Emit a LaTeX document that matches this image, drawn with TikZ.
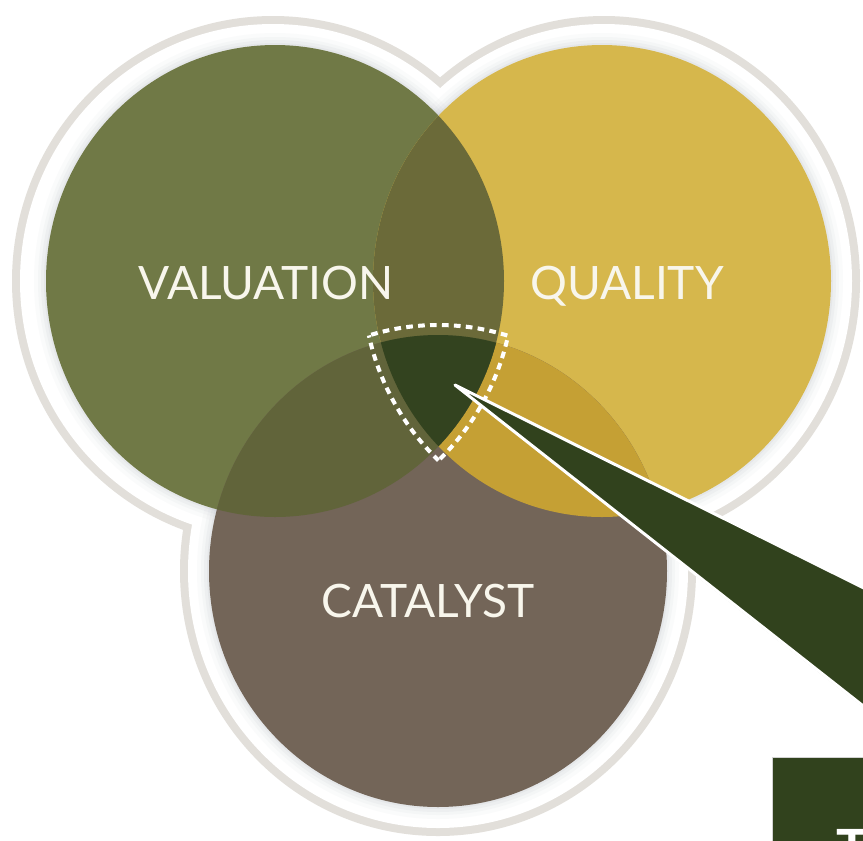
\documentclass[tikz,border=0pt]{standalone}
\usepackage{fontspec}
\setmainfont{Lato}
\definecolor{cval}{RGB}{112,121,70}
\definecolor{cqua}{RGB}{214,183,76}
\definecolor{ccat}{RGB}{115,101,88}
\definecolor{cgy}{RGB}{107,106,57}
\definecolor{cgc}{RGB}{97,100,58}
\definecolor{cyc}{RGB}{197,160,52}
\definecolor{cgyc}{RGB}{51,67,31}
\definecolor{cwedge}{RGB}{49,66,29}
\definecolor{ringgrey}{RGB}{226,223,218}
\definecolor{shadowc}{RGB}{150,155,170}
\definecolor{ctext}{RGB}{248,246,236}
\begin{document}
\begin{tikzpicture}[x=0.02cm,y=-0.02cm,
  lab/.style={text=ctext, inner sep=0pt, anchor=base, font=\fontsize{26.2}{30}\selectfont},
  dashline/.style={draw=white, line width=2.3pt, dash pattern=on 3.8pt off 3pt},
  circ/.style={x radius=229, y radius=236},
  circd/.style={x radius=239, y radius=246}]
\clip (0,0) rectangle (863,840);
\fill[white] (0,0) rectangle (863,840);
% centres
\coordinate (G) at (275,281);
\coordinate (Y) at (602,281);
\coordinate (C) at (438,571);
% outer ring
\fill[ringgrey] (273,281) ellipse [x radius=261, y radius=265];
\fill[ringgrey] (604,281) ellipse [x radius=256, y radius=265];
\fill[ringgrey] (438,571) ellipse [x radius=258, y radius=265];
\fill[white] (273,281) ellipse [x radius=253, y radius=257];
\fill[white] (604,281) ellipse [x radius=248, y radius=257];
\fill[white] (438,571) ellipse [x radius=250, y radius=257];
% soft shadow
\foreach \d/\op in {12/0.04,8/0.05,5/0.07,2/0.09}{
  \fill[shadowc, opacity=\op] (G) ellipse [x radius=229+\d, y radius=236+\d];
  \fill[shadowc, opacity=\op] (Y) ellipse [x radius=229+\d, y radius=236+\d];
  \fill[shadowc, opacity=\op] (C) ellipse [x radius=229+\d, y radius=236+\d];
}
% circles
\fill[cval] (G) ellipse [circ];
\fill[cqua] (Y) ellipse [circ];
\fill[ccat] (C) ellipse [circ];
\begin{scope}
  \clip (Y) ellipse [circ];
  \fill[cyc] (C) ellipse [circ];
\end{scope}
\begin{scope}
  \clip (G) ellipse [circ];
  \fill[cgy] (Y) ellipse [circ];
  \fill[cgc] (C) ellipse [circ];
  \clip (Y) ellipse [circ];
  \fill[cgyc] (C) ellipse [circ];
\end{scope}
% dashed outline of the centre
\begin{scope}
  \clip (G) ellipse [circd];
  \clip (Y) ellipse [circd];
  \draw[dashline] (C) ellipse [circd];
\end{scope}
\begin{scope}
  \clip (G) ellipse [circd];
  \clip (C) ellipse [circd];
  \draw[dashline] (Y) ellipse [circd];
\end{scope}
\begin{scope}
  \clip (Y) ellipse [circd];
  \clip (C) ellipse [circd];
  \draw[dashline] (G) ellipse [circd];
\end{scope}
% labels
\node[lab] (val) at (266,299) {VALUATION};
\node[lab] (qua) at (627,299) {QUALITY};
\node[lab] (cat) at (428,617) {CATALYST};
% callout box
\node[draw=gray!35, line width=0.5pt, fill=cwedge, anchor=north west,
      minimum width=3cm, minimum height=3cm, inner sep=0pt] (box) at (772,757) {};
\node[anchor=north west, inner sep=0pt, text=white,
      font=\fontsize{30}{30}\selectfont\bfseries] (tx) at (836,829) {T};
% wedge
\coordinate (tip) at (455,385);
\coordinate (wu) at (890,601);
\coordinate (wl) at (890,727);
\fill[gray!70] ([shift={(1.5,2.5)}]tip) -- ([shift={(1.5,2.5)}]wu) -- ([shift={(1.5,2.5)}]wl) -- cycle;
\filldraw[fill=cwedge, draw=white, line width=1.7pt, line join=round] (tip) -- (wu) -- (wl) -- cycle;
\end{tikzpicture}
\end{document}
